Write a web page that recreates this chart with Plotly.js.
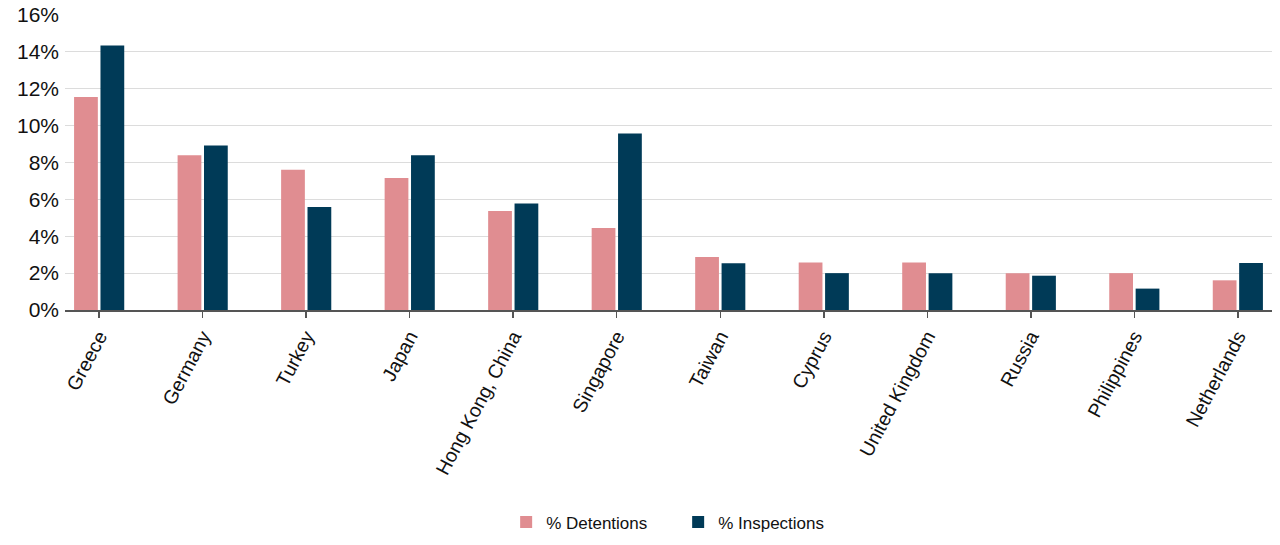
<!DOCTYPE html>
<html>
<head>
<meta charset="utf-8">
<script src="https://cdn.plot.ly/plotly-3.0.1.min.js"></script>
<style>html,body{margin:0;padding:0;background:#fff;}#chart{width:1280px;height:545px;}</style>
</head>
<body>
<div id="chart"></div>
<script>
const countries = ["Greece","Germany","Turkey","Japan","Hong Kong, China","Singapore","Taiwan","Cyprus","United Kingdom","Russia","Philippines","Netherlands"];
const detentions = [11.55, 8.39, 7.61, 7.16, 5.37, 4.45, 2.88, 2.57, 2.57, 2.0, 2.0, 1.61];
const inspections = [14.34, 8.92, 5.59, 8.39, 5.77, 9.57, 2.53, 2.0, 2.0, 1.86, 1.16, 2.55];
const yTicks = [0, 2, 4, 6, 8, 10, 12, 14, 16];
const yTickLabels = ["0%","2%","4%","6%","8%","10%","12%","14%","16%"];

const traces = [
  {type: "bar", name: "% Detentions", x: countries, y: detentions, marker: {color: "#e08d91", line: {width: 0}}},
  {type: "bar", name: "% Inspections", x: countries, y: inspections, marker: {color: "#003a57", line: {width: 0}}}
];

const layout = {
  width: 1280, height: 545,
  margin: {l: 65, r: 8, t: 15, b: 235, autoexpand: false},
  paper_bgcolor: "#fff", plot_bgcolor: "#fff",
  font: {family: "Liberation Sans, Arial, sans-serif", color: "#111"},
  barmode: "group",
  bargap: 0.49,
  bargroupgap: 0.1,
  xaxis: {
    type: "category",
    range: [-0.33, 11.33],
    tickangle: -62,
    automargin: false,
    tickfont: {size: 19.5, color: "#111"},
    showline: true, linecolor: "#555", linewidth: 1.5,
    ticks: "outside", ticklen: 6, tickcolor: "#555", tickwidth: 1.5,
    showgrid: false, fixedrange: true
  },
  yaxis: {
    range: [0, 16],
    automargin: false,
    tickvals: yTicks, ticktext: yTickLabels,
    tickfont: {size: 21, color: "#111"},
    showgrid: true, gridcolor: "#dcdcdc", gridwidth: 1,
    zeroline: false, showline: false, ticks: "",
    ticklabelstandoff: 5,
    fixedrange: true
  },
  showlegend: true,
  legend: {
    orientation: "h", x: 0.508, xanchor: "center", y: -0.72, yanchor: "middle",
    font: {size: 17, color: "#111"},
    itemwidth: 30,
    entrywidth: 127, entrywidthmode: "pixels",
    traceorder: "normal"
  }
};

Plotly.newPlot("chart", traces, layout, {displayModeBar: false, staticPlot: true});
</script>
</body>
</html>
